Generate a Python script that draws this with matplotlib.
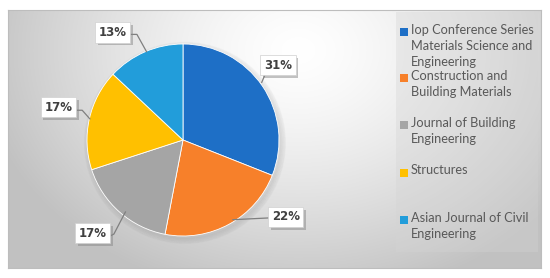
import numpy as np
import matplotlib
matplotlib.use("Agg")
import matplotlib.pyplot as plt
from matplotlib.patches import Rectangle
import matplotlib.patheffects as pe

# data
journals = ["Iop Conference Series\nMaterials Science and\nEngineering",
            "Construction and\nBuilding Materials",
            "Journal of Building\nEngineering",
            "Structures",
            "Asian Journal of Civil\nEngineering"]
shares = [31, 22, 17, 17, 13]
colors = ["#1E6FC6", "#F7802A", "#A5A5A5", "#FFC000", "#229DDA"]

W, H = 550, 278
fig = plt.figure(figsize=(W / 100, H / 100), dpi=100)
fig.patch.set_facecolor("white")

# background panel with soft grey gradient
bg = fig.add_axes([8 / W, 10 / H, 533 / W, 258 / H])
yy, xx = np.mgrid[0:258, 0:533]
d = np.sqrt(((xx - 290) / 320.0) ** 2 + ((yy - 40) / 250.0) ** 2)
shade = np.clip(1.0 - 0.24 * d ** 1.4, 0.76, 1.0)
bg.imshow(np.dstack([shade] * 3), aspect="auto", extent=(0, 533, 258, 0))
bg.add_patch(Rectangle((388, 2), 142, 240, facecolor="#d4d4d4", alpha=0.35,
                       edgecolor="none"))
bg.set_xlim(0, 533); bg.set_ylim(258, 0)
bg.set_xticks([]); bg.set_yticks([])
for s in bg.spines.values():
    s.set_color("#bdbdbd"); s.set_linewidth(0.8)

# pie
cx, cy, r = 183, 140, 96
ax = fig.add_axes([(cx - r) / W, (H - cy - r) / H, 2 * r / W, 2 * r / H])
ax.axis("off")
# soft shadow
for k in range(4):
    sh = plt.Circle((0.02, -0.03), 1.0 + 0.015 * k, color="#666666", alpha=0.04,
                    zorder=0, clip_on=False)
    ax.add_patch(sh)
ax.pie(shares, colors=colors, startangle=90, counterclock=False, radius=1.0,
       wedgeprops=dict(edgecolor="white", linewidth=0.6))
ax.set_xlim(-1, 1); ax.set_ylim(-1, 1)

# labels with leader lines (box pos, line path in radius units)
lab_pos = [(0.99, 0.78), (1.07, -0.80), (-0.94, -0.97), (-1.30, 0.34), (-0.73, 1.12)]
leaders = [
    [(0.88, 0.74), (0.82, 0.60)],
    [(0.93, -0.81), (0.52, -0.83)],
    [(-0.76, -1.00), (-0.72, -0.98), (-0.60, -0.75)],
    [(-1.10, 0.31), (-1.05, 0.31), (-0.97, 0.22)],
    [(-0.55, 1.10), (-0.48, 1.10), (-0.38, 0.92)],
]
for v, (lx, ly), path in zip(shares, lab_pos, leaders):
    px, py = zip(*path)
    ax.plot(px, py, color="#7f7f7f", lw=0.9, clip_on=False, zorder=3)
    t = ax.text(lx, ly, f"{v}%", color="#404040", zorder=5, ha="center", va="center",
                fontsize=8.5, fontweight="bold", clip_on=False,
                bbox=dict(boxstyle="square,pad=0.3", fc="white", ec="#d0d0d0", lw=0.5))
    t.get_bbox_patch().set_path_effects(
        [pe.SimplePatchShadow(offset=(2, -2), shadow_rgbFace="#888888", alpha=0.5),
         pe.Normal()])

# legend
leg_y = [32, 78, 125, 173, 220]
for name, c, y in zip(journals, colors, leg_y):
    fig.patches.append(Rectangle((400 / W, 1 - (y + 4) / H), 8 / W, 8 / H,
                                 facecolor=c, edgecolor="none",
                                 transform=fig.transFigure, figure=fig))
    fig.text(411 / W, 1 - (y - 8.5) / H, name, ha="left", va="top", fontsize=9.2,
             family="Lato", color="#595959", linespacing=1.45)

fig.savefig("out.png", dpi=100, facecolor="white")
